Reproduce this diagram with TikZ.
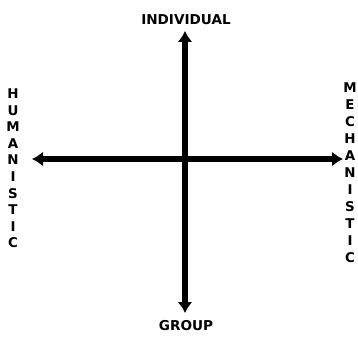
\documentclass[tikz,border=0pt]{standalone}
\usepackage{fontspec}
\setmainfont{DejaVu Sans}
\usetikzlibrary{arrows.meta}
\tikzset{
  axis/.style={line width=5.5pt, black, {Latex[length=11pt,width=15pt]}-{Latex[length=11pt,width=15pt]}},
  lbl/.style={font=\bfseries\fontsize{13.6}{16}\selectfont, inner sep=0pt, text=black},
  stackA/.style={lbl, align=center, font=\bfseries\fontsize{13.4}{16.6}\selectfont},
  stackB/.style={lbl, align=center, font=\bfseries\fontsize{13.4}{17}\selectfont}
}
\begin{document}
\begin{tikzpicture}[x=1pt,y=-1pt]
\useasboundingbox (0,0) rectangle (358,337);
\coordinate (top) at (185,31);
\coordinate (bottom) at (185,313);
\coordinate (left) at (32,159);
\coordinate (right) at (343,159);
\draw[axis] (top) -- (bottom);
\draw[axis] (left) -- (right);
\node[lbl] (ind) at (186,20) {INDIVIDUAL};
\node[lbl] (grp) at (186,326) {GROUP};
\node[stackA] (hum) at (13,168.5) {H\\U\\M\\A\\N\\I\\S\\T\\I\\C};
\node[stackB] (mech) at (350,173) {M\\E\\C\\H\\A\\N\\I\\S\\T\\I\\C};
\end{tikzpicture}
\end{document}
